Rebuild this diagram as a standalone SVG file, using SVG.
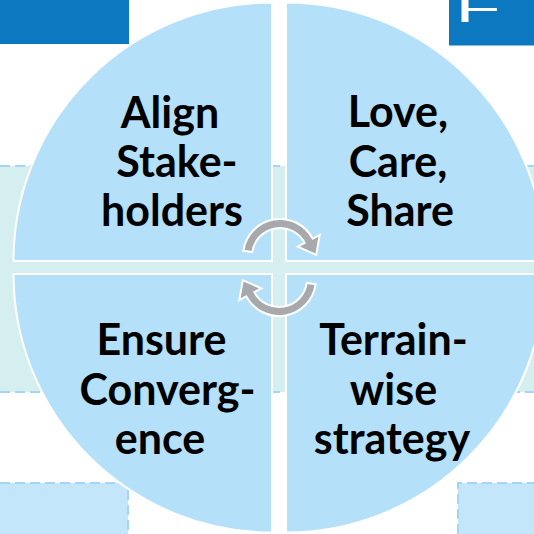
<svg xmlns="http://www.w3.org/2000/svg" width="534" height="534" viewBox="0 0 534 534">
<style>
.quad{fill:#b4e0f9;stroke:#ffffff;stroke-width:2}
.lbl{font-family:Lato,"Open Sans",sans-serif;font-weight:bold;font-size:43px;fill:#000000;text-anchor:middle}
.dash{stroke:#a3d5f4;stroke-width:2;stroke-dasharray:10 5;fill:none}
.brect{fill:#c4e6fb}
.dark{fill:#0b78bf}
.arrow{fill:#a7a9ad;stroke:#ffffff;stroke-width:2;stroke-linejoin:miter}
</style>
<defs>
<path id="arr" d="M243.36,250.85 A37,37 0 0 1 312.67,238.63 L319.73,234.87 L316.2,254.87 L297.66,246.61 L304.72,242.85 A28,28 0 0 0 252.27,252.1 Z"/>
</defs>
<rect width="534" height="534" fill="#ffffff"/>
<g id="background">
<rect class="dark" x="0" y="0" width="129" height="44"/>
<rect class="dark" x="449" y="0" width="90" height="45.5"/>
<text x="0" y="0" font-family="Liberation Sans, Arial, sans-serif" font-size="100" fill="#ffffff" transform="matrix(0.74,0,0,0.38,455.6,22)">F</text>
<rect x="-5" y="166" width="545" height="226" fill="#d5eff1"/>
<line class="dash" x1="0" y1="166" x2="534" y2="166"/>
<line class="dash" x1="0" y1="392" x2="534" y2="392"/>
<rect class="brect" x="-5" y="483" width="133" height="60"/>
<path class="dash" d="M0,483 H128 V534"/>
<rect class="brect" x="458" y="483" width="90" height="60"/>
<path class="dash" d="M458,534 V483 H534"/>
</g>
<g id="node-align">
<path class="quad" d="M272,261 L13.5,261 A258.5,258.5 0 0 1 272,2.5 Z"/>
<text class="lbl" x="170" y="128">Align</text>
<text class="lbl" x="177" y="177">Stake-</text>
<text class="lbl" x="172" y="226">holders</text>
</g>
<g id="node-love">
<path class="quad" d="M286,261 L286,2.5 A258.5,258.5 0 0 1 544.5,261 Z"/>
<text class="lbl" x="398" y="127">Love,</text>
<text class="lbl" x="398" y="177">Care,</text>
<text class="lbl" x="400" y="226">Share</text>
</g>
<g id="node-ensure">
<path class="quad" d="M272,274 L272,532.5 A258.5,258.5 0 0 1 13.5,274 Z"/>
<text class="lbl" x="161.5" y="355">Ensure</text>
<text class="lbl" x="167.5" y="405">Converg-</text>
<text class="lbl" x="160" y="454">ence</text>
</g>
<g id="node-terrain">
<path class="quad" d="M286,274 L544.5,274 A258.5,258.5 0 0 1 286,532.5 Z"/>
<text class="lbl" x="393.5" y="355">Terrain-</text>
<text class="lbl" x="393.5" y="405">wise</text>
<text class="lbl" x="392" y="454">strategy</text>
</g>
<g id="connectors">
<use href="#arr" class="arrow"/>
<use href="#arr" class="arrow" transform="rotate(180 279.5 267.5)"/>
</g>
</svg>
